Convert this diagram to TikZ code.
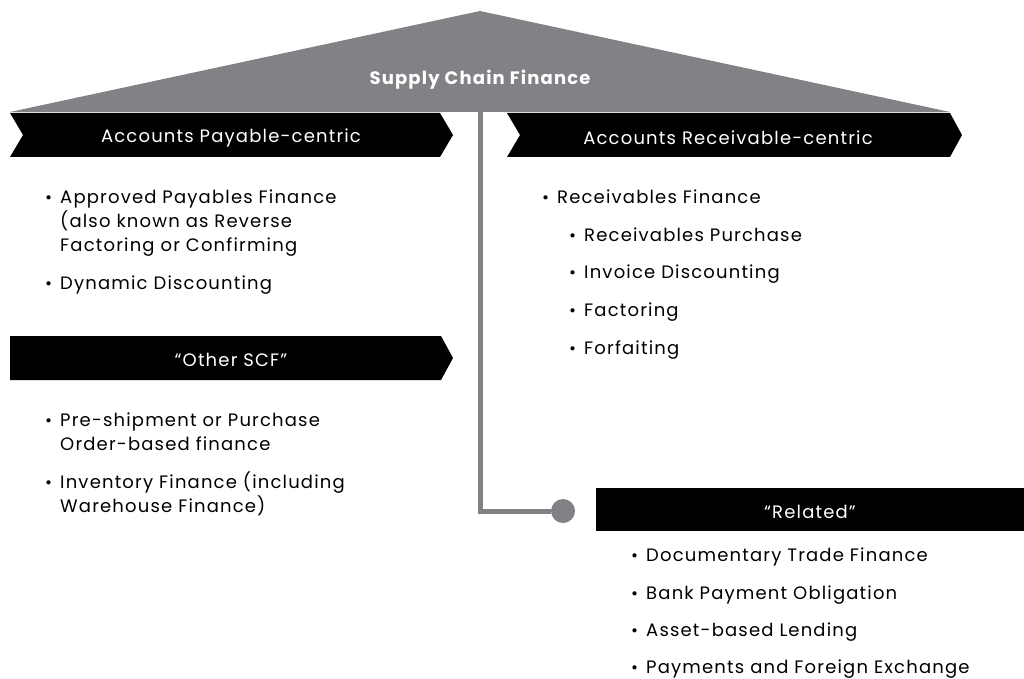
\documentclass[tikz,border=0pt]{standalone}
\usepackage{fontspec}
\setmainfont{Poppins}[LetterSpace=6.5]
\usepackage{tikz}
\definecolor{roofgrey}{HTML}{808285}
\tikzset{
    banner/.style={fill=black, draw=none},
    bantext/.style={text=white, font=\fontsize{18}{21}\selectfont},
    item/.style={anchor=base west, inner sep=0pt, font=\fontsize{18}{21}\selectfont},
    dot/.style={anchor=base west, inner sep=0pt, font=\fontsize{17}{20}\selectfont}
}
\newcommand{\bitem}[4]{%
    \node [dot] (#1b) at (#2,#3) {\textbullet};
    \node [item] (#1) at (#2+15,#3) {#4};
}

\begin{document}
\begin{tikzpicture}[x=1pt, y=-1pt]
	\useasboundingbox (0,0) rectangle (1024,679);
	% roof
	\fill [roofgrey] (10,112) -- (480,11) -- (950,112) -- cycle;
	\node [text=white, font=\bfseries\fontsize{18}{21}\selectfont] (scf) at (480,80) {Supply Chain Finance};
	% stem and knob
	\coordinate (top) at (480,112);
	\coordinate (bend) at (480,511);
	\node [circle, fill=roofgrey, minimum size=24pt, inner sep=0pt] (knob) at (563,511) {};
	\draw [roofgrey, line width=5pt] (top) -- (bend) -- (knob);
	% banners
	\fill [banner] (10,113) -- (440,113) -- (453,135) -- (440,157) -- (10,157) -- (23,135) -- cycle;
	\node [bantext] (ap) at (231,138) {Accounts Payable-centric};
	\fill [banner] (507,113) -- (950,113) -- (962,135) -- (950,157) -- (507,157) -- (520,135) -- cycle;
	\node [bantext] (ar) at (728,138) {Accounts Receivable-centric};
	\fill [banner] (10,336) -- (441,336) -- (453,358) -- (441,380) -- (10,380) -- cycle;
	\node [bantext] (other) at (231,360) {“Other SCF”};
	\fill [banner] (596,488) rectangle (1024,531);
	\node [bantext] (rel) at (810,512) {“Related”};
	% payable items
	\bitem{apf}{45}{203}{Approved Payables Finance}
	\node [item] (apf2) at (60,227) {(also known as Reverse};
	\node [item] (apf3) at (60,251) {Factoring or Confirming};
	\bitem{dd}{45}{289}{Dynamic Discounting}
	% other items
	\bitem{pre}{45}{426}{Pre-shipment or Purchase}
	\node [item] (pre2) at (60,450) {Order-based finance};
	\bitem{inv}{45}{488}{Inventory Finance (including}
	\node [item] (inv2) at (60,512) {Warehouse Finance)};
	% receivable items
	\bitem{rf}{542}{203}{Receivables Finance}
	\bitem{rp}{569}{241}{Receivables Purchase}
	\bitem{id}{569}{278}{Invoice Discounting}
	\bitem{fac}{569}{316}{Factoring}
	\bitem{forf}{569}{354}{Forfaiting}
	% related items
	\bitem{dtf}{631}{561}{Documentary Trade Finance}
	\bitem{bpo}{631}{599}{Bank Payment Obligation}
	\bitem{abl}{631}{636}{Asset-based Lending}
	\bitem{pfx}{631}{673}{Payments and Foreign Exchange}
\end{tikzpicture}
\end{document}
